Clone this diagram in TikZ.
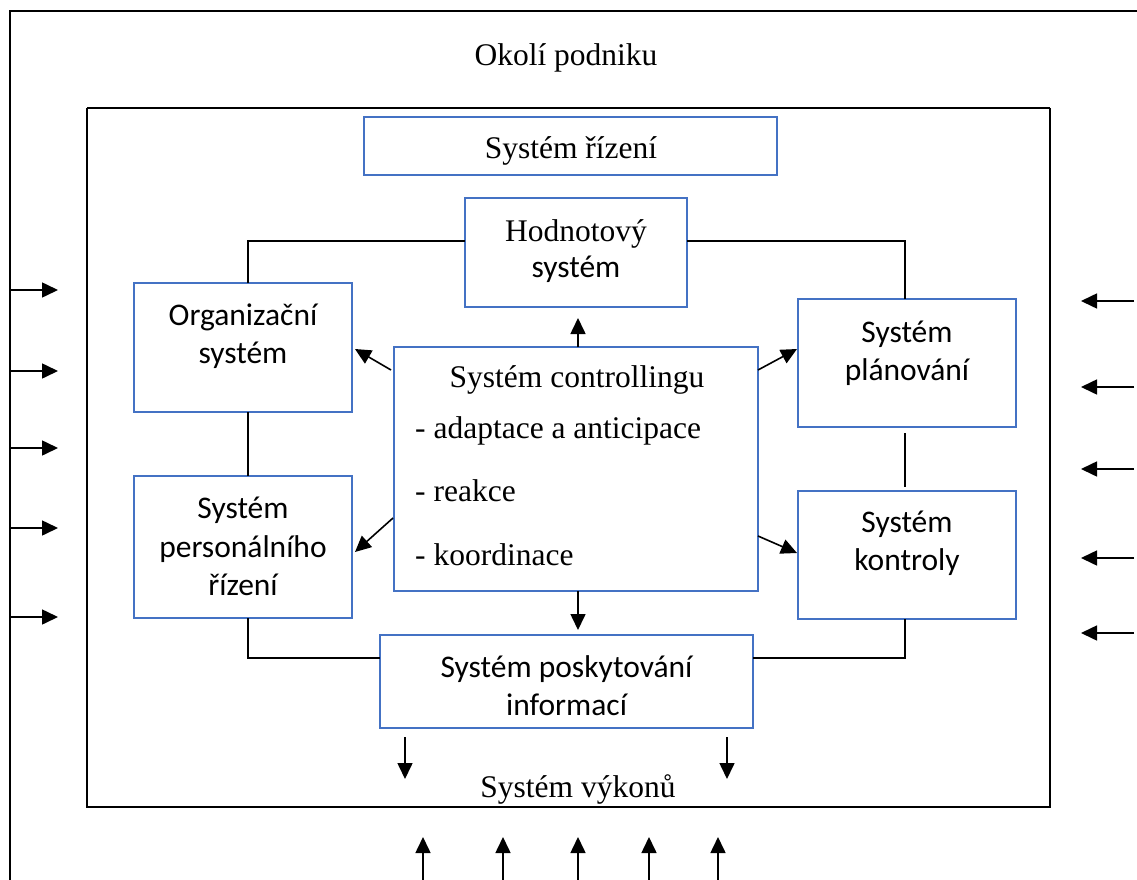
\documentclass[tikz,border=0pt]{standalone}
\usepackage{fontspec}
\setmainfont{Liberation Serif}
\newfontfamily\carl{Carlito}
\usetikzlibrary{arrows.meta}
\definecolor{boxblue}{RGB}{68,114,196}
\newcommand\serf{\fontsize{31.5}{38}\selectfont}
\newcommand\sanf{\carl\fontsize{31.5}{38}\selectfont}
\tikzset{
  box/.style={draw=boxblue, line width=2.2pt, inner sep=0pt, outer sep=0pt, fill=white},
  conn/.style={line width=1.4pt},
  arr/.style={line width=1.6pt, -{Triangle[length=16pt,width=15pt]}},
  ser/.style={font=\serf, anchor=base, inner sep=0pt},
  san/.style={font=\sanf, anchor=base, inner sep=0pt}
}
\begin{document}
\begin{tikzpicture}[x=1pt,y=-1pt]
\useasboundingbox (0,0) rectangle (1137,880);
% frames
\draw[line width=2.4pt] (10,880) -- (10,11) -- (1137,11);
\draw[line width=1.1pt] (87,108) -- (87,807) (1050,108) -- (1050,807);
\draw[line width=1.6pt] (87,108) -- (1050,108);
\draw[line width=2.4pt] (86,807) -- (1051,807);
\node[ser] (okoli) at (566,66) {Okolí podniku};
% boxes
\node[box, minimum width=413pt, minimum height=58pt] (riz) at (570.5,146) {};
\node[box, minimum width=222pt, minimum height=109pt] (hod) at (576,252.5) {};
\node[box, minimum width=218pt, minimum height=129pt] (org) at (243,347.5) {};
\node[box, minimum width=364pt, minimum height=244pt] (ctrl) at (576,469) {};
\node[box, minimum width=218pt, minimum height=128pt] (plan) at (907,363) {};
\node[box, minimum width=218pt, minimum height=142pt] (pers) at (243,547) {};
\node[box, minimum width=218pt, minimum height=128pt] (kont) at (907,555) {};
\node[box, minimum width=373pt, minimum height=93pt] (posk) at (566.5,681.5) {};
% texts
\node[ser] (tr) at (571,158) {Systém řízení};
\node[ser] (th1) at (576,241) {Hodnotový};
\node[san] (th2) at (576,277) {systém};
\node[san] (to1) at (243,325) {Organizační};
\node[san] (to2) at (243,363) {systém};
\node[san] (tp1) at (907,342) {Systém};
\node[san] (tp2) at (907,380) {plánování};
\node[san] (tpe1) at (243,518) {Systém};
\node[san] (tpe2) at (243,557) {personálního};
\node[san] (tpe3) at (243,595) {řízení};
\node[san] (tk1) at (907,532) {Systém};
\node[san] (tk2) at (907,570) {kontroly};
\node[san] (tps1) at (566.5,677) {Systém poskytování};
\node[san] (tps2) at (566.5,715) {informací};
\node[ser] (tc0) at (577,387) {Systém controllingu};
\node[ser, anchor=base west] (tc1) at (415,438) {- adaptace a anticipace};
\node[ser, anchor=base west] (tc2) at (415,501) {- reakce};
\node[ser, anchor=base west] (tc3) at (415,565) {- koordinace};
\node[ser] (vyk) at (578,797) {Systém výkonů};
% connectors
\draw[conn] ([xshift=5pt]org.north) |- ([yshift=11.5pt]hod.west);
\draw[conn] ([yshift=11.5pt]hod.east) -| ([xshift=-2pt]plan.north);
\draw[conn] ([xshift=5pt]org.south) -- ([xshift=5pt]pers.north);
\draw[conn] ([xshift=-2pt,yshift=-6pt]plan.south) -- ([xshift=-2pt,yshift=4pt]kont.north);
\draw[conn] ([xshift=5pt]pers.south) |- ([yshift=23.5pt]posk.west);
\draw[conn] ([xshift=-2pt]kont.south) |- ([yshift=23.5pt]posk.east);
% arrows from controlling
\draw[arr] ([xshift=2pt]ctrl.north) -- ([xshift=2pt,yshift=-11pt]hod.south);
\draw[arr] ([shift={(-3,23)}]ctrl.north west) -- ([shift={(3,1.5)}]org.east);
\draw[arr] ([shift={(0,23)}]ctrl.north east) -- ([shift={(-1,-14)}]plan.west);
\draw[arr] ([shift={(-1,171)}]ctrl.north west) -- ([shift={(3,5)}]pers.east);
\draw[arr] ([shift={(0,189)}]ctrl.north east) -- ([shift={(-1,-2)}]kont.west);
\draw[arr] ([xshift=2pt]ctrl.south) -- ([xshift=2pt,yshift=5pt]ctrl.south |- posk.north);
% arrows to performance system
\coordinate (d1) at (405,779);
\coordinate (d2) at (727,779);
\draw[arr] ([yshift=-9pt]posk.south -| d1) -- (d1);
\draw[arr] ([yshift=-9pt]posk.south -| d2) -- (d2);
% arrows from below
\foreach \xx/\nm in {423/u1,503/u2,578/u3,649/u4,718/u5}{
  \coordinate (\nm a) at (\xx,880);
  \coordinate (\nm b) at (\xx,837);
  \draw[arr] (\nm a) -- (\nm b);
}
% arrows from left
\foreach \yy/\nm in {290/l1,371/l2,448/l3,528/l4,617/l5}{
  \coordinate (\nm a) at (10,\yy);
  \coordinate (\nm b) at (58,\yy);
  \draw[arr] (\nm a) -- (\nm b);
}
% arrows from right
\foreach \yy/\nm in {301/r1,387/r2,469/r3,558/r4,633/r5}{
  \coordinate (\nm a) at (1134,\yy);
  \coordinate (\nm b) at (1081,\yy);
  \draw[arr] (\nm a) -- (\nm b);
}
\end{tikzpicture}
\end{document}
